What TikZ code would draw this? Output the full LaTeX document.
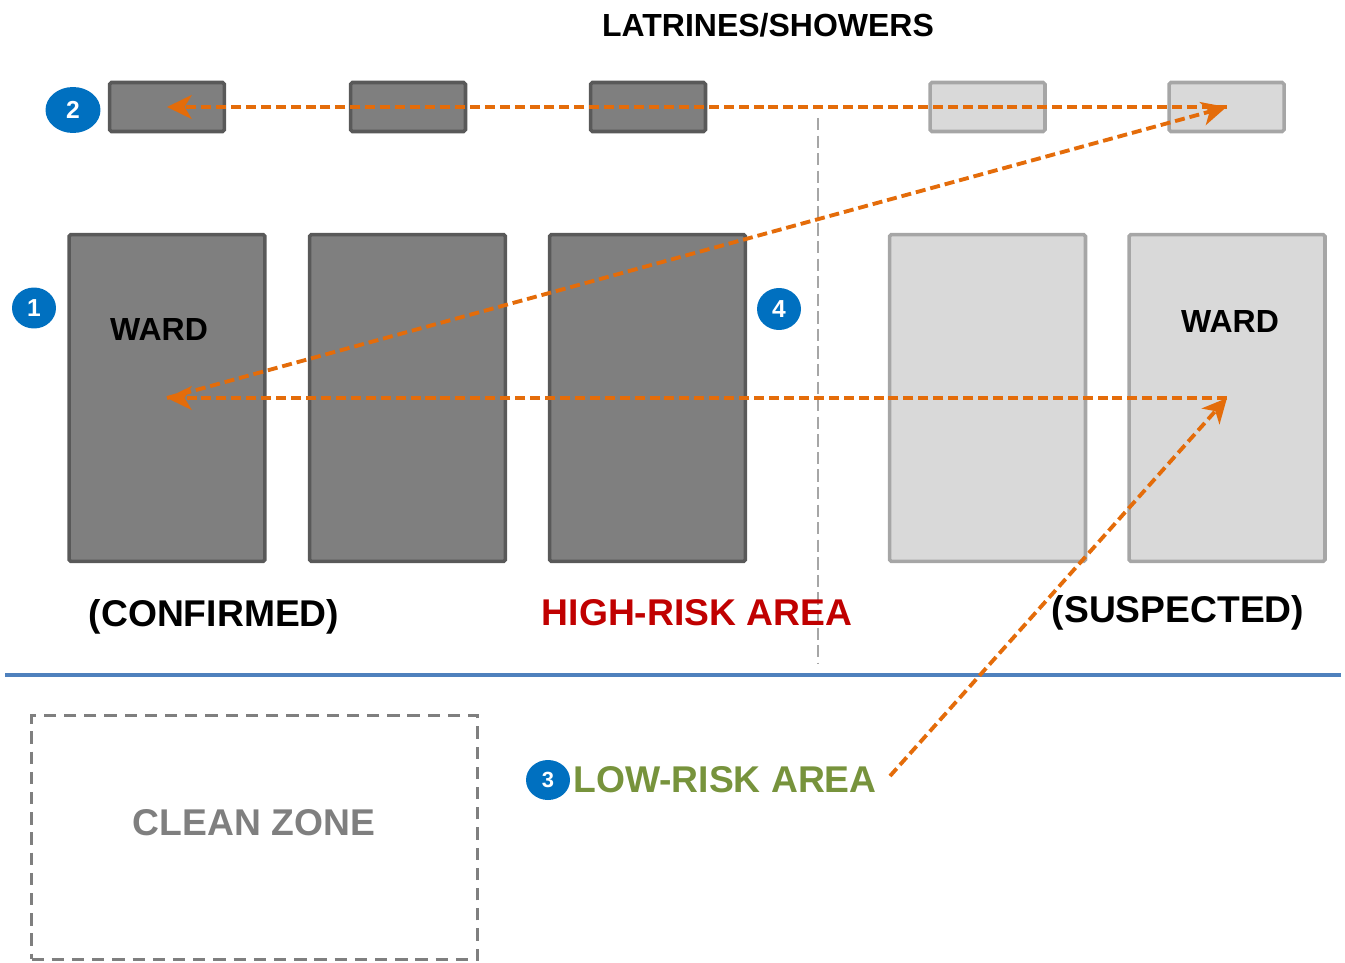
\documentclass[tikz,border=0pt]{standalone}
\usepackage{fontspec}
\setmainfont{Liberation Sans}
\usetikzlibrary{arrows.meta,shapes.geometric}
\definecolor{darkfill}{HTML}{7F7F7F}
\definecolor{darkline}{HTML}{595959}
\definecolor{lightfill}{HTML}{D9D9D9}
\definecolor{lightline}{HTML}{A6A6A6}
\definecolor{badgeblue}{HTML}{0070C0}
\definecolor{routeorange}{HTML}{E46C0A}
\definecolor{riskred}{HTML}{C00000}
\definecolor{riskgreen}{HTML}{77933C}
\definecolor{zonegray}{HTML}{7F7F7F}
\definecolor{borderblue}{HTML}{4F81BD}
\newcommand{\bigfont}{\fontsize{21.2}{25}\selectfont\bfseries}
\newcommand{\midfont}{\fontsize{18.2}{21}\selectfont\bfseries}

\begin{document}
\begin{tikzpicture}[x=0.02cm,y=-0.02cm,
  dark/.style={draw=darkline,fill=darkfill,line width=2pt,rounded corners=1pt,inner sep=0pt},
  light/.style={draw=lightline,fill=lightfill,line width=2pt,rounded corners=1pt,inner sep=0pt},
  latrine/.style={minimum width=2.30cm,minimum height=0.98cm},
  ward/.style={minimum width=3.92cm,minimum height=6.54cm},
  badge/.style={ellipse,fill=badgeblue,text=white,inner sep=0pt,font=\fontsize{14}{14}\selectfont\bfseries},
  route/.style={draw=routeorange,line width=2.2pt,dash pattern=on 5.7pt off 2.8pt,
                -{Stealth[length=14pt,width=13.5pt,inset=4pt]}}]
  \useasboundingbox (0,0) rectangle (1345,963);
  \draw[lightline, line width=0.7pt, dash pattern=on 7pt off 3pt] (818,118) -- (818,664);
  \draw[borderblue, line width=2pt] (5,675) -- (1341,675);
  \node[draw=zonegray, line width=1.9pt, dash pattern=on 7pt off 4.5pt,
        minimum width=8.92cm, minimum height=4.88cm] (clean) at (254.5,837.5) {};
  \node[dark, latrine]  (latrine1) at ( 167  ,107) {};
  \node[dark, latrine]  (latrine2) at ( 408  ,107) {};
  \node[dark, latrine]  (latrine3) at ( 648  ,107) {};
  \node[light, latrine] (latrine4) at ( 987.5,107) {};
  \node[light, latrine] (latrine5) at (1226.5,107) {};
  \node[dark, ward]     (ward1)    at ( 167  ,398) {};
  \node[dark, ward]     (ward2)    at ( 407.5,398) {};
  \node[dark, ward]     (ward3)    at ( 647.5,398) {};
  \node[light, ward]    (ward4)    at ( 987.5,398) {};
  \node[light, ward]    (ward5)    at (1227  ,398) {};
  \node[font=\midfont]                (title)     at ( 768, 25) {LATRINES/SHOWERS};
  \node[font=\midfont]                (wardlabL)  at ( 159,329) {WARD};
  \node[font=\midfont]                (wardlabR)  at (1230,321) {WARD};
  \node[font=\bigfont]                (confirmed) at ( 214,617) {(CONFIRMED)};
  \node[font=\bigfont, text=riskred]  (highrisk)  at ( 697,613) {HIGH-RISK AREA};
  \node[font=\bigfont]                (suspected) at (1178,613) {(SUSPECTED)};
  \node[font=\bigfont, text=riskgreen](lowrisk)   at ( 725,780) {LOW-RISK AREA};
  \node[font=\bigfont, text=zonegray] (cleanlab)  at ( 254,823) {CLEAN ZONE};
  \node[badge, minimum width=1.10cm, minimum height=0.92cm] (badge2) at ( 73,110) {2};
  \node[badge, minimum width=0.88cm, minimum height=0.82cm] (badge1) at ( 34,308) {1};
  \node[badge, minimum width=0.88cm, minimum height=0.84cm] (badge4) at (779,309) {4};
  \node[badge, minimum width=0.88cm, minimum height=0.80cm,
        font=\fontsize{12.5}{12.5}\selectfont\bfseries]      (badge3) at (548,780) {3};
  \coordinate (lowend) at (890,776);
  \draw[route] (lowend)           -- (ward5.center);
  \draw[route] (ward5.center)     -- (ward1.center);
  \draw[route] (ward1.center)     -- (latrine5.center);
  \draw[route] (latrine5.center)  -- (latrine1.center);
\end{tikzpicture}
\end{document}
